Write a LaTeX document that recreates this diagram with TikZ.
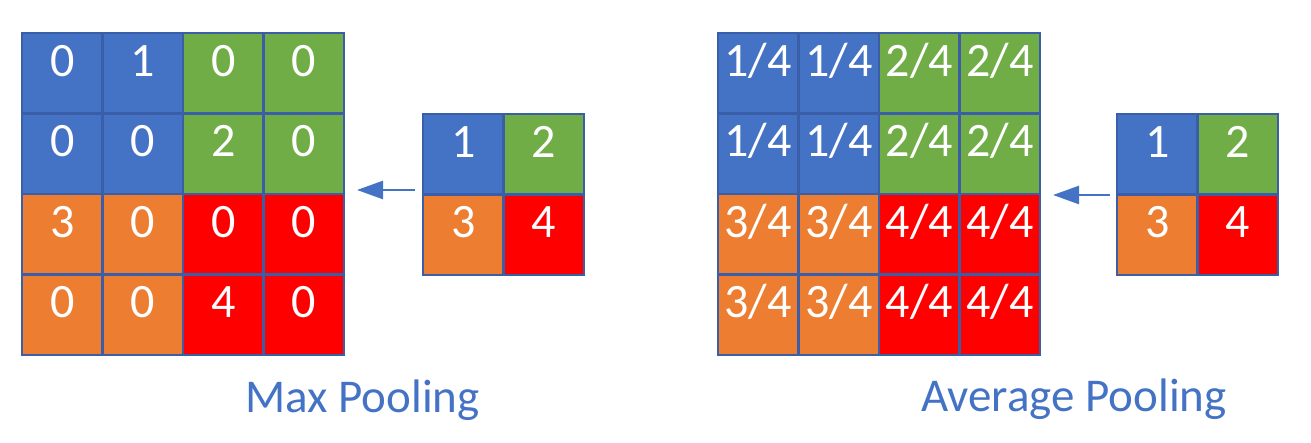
\documentclass[tikz,border=0pt]{standalone}
\usepackage{fontspec}
\setmainfont{Carlito}
\usetikzlibrary{arrows.meta}
\definecolor{qa}{HTML}{4472C4}
\definecolor{qb}{HTML}{70AD47}
\definecolor{qc}{HTML}{ED7D31}
\definecolor{qd}{HTML}{FF0000}
\definecolor{edge}{HTML}{3A5EA8}
\definecolor{lbl}{HTML}{4472C4}
\tikzset{
  cell/.style={draw=edge, line width=2.8pt, minimum size=80.5pt, inner sep=0pt,
    text=white, font=\fontsize{48}{57}\selectfont, text height=0.63em, text depth=0pt},
  arr/.style={draw=lbl, line width=2.5pt, -{Triangle[length=26pt,width=18pt]}},
  caption/.style={text=lbl, font=\fontsize{47}{56}\selectfont, anchor=base, inner sep=0pt}
}
\begin{document}
\begin{tikzpicture}[x=1pt,y=1pt]
\useasboundingbox (0,0) rectangle (1311,443);
% big grids
\foreach \v [count=\i from 0] in {0,1,0,0,0,0,2,0,3,0,0,0,0,0,4,0} {
  \pgfmathtruncatemacro\r{div(\i,4)}
  \pgfmathtruncatemacro\c{mod(\i,4)}
  \pgfmathtruncatemacro\q{2*(\r>1)+(\c>1)}
  \ifcase\q \def\col{qa}\or \def\col{qb}\or \def\col{qc}\else \def\col{qd}\fi
  \node[cell, fill=\col] (L-\r-\c) at (22+40.25+80.5*\c, 443-33-40.25-80.5*\r) {\v};
}
\foreach \v [count=\i from 0] in {1,1,2,2,1,1,2,2,3,3,4,4,3,3,4,4} {
  \pgfmathtruncatemacro\r{div(\i,4)}
  \pgfmathtruncatemacro\c{mod(\i,4)}
  \pgfmathtruncatemacro\q{2*(\r>1)+(\c>1)}
  \ifcase\q \def\col{qa}\or \def\col{qb}\or \def\col{qc}\else \def\col{qd}\fi
  \node[cell, fill=\col] (R-\r-\c) at (718+40.25+80.5*\c, 443-33-40.25-80.5*\r) {\v/4};
}
% small grids
\foreach \v [count=\i from 0] in {1,2,3,4} {
  \pgfmathtruncatemacro\r{div(\i,2)}
  \pgfmathtruncatemacro\c{mod(\i,2)}
  \ifcase\i \def\col{qa}\or \def\col{qb}\or \def\col{qc}\else \def\col{qd}\fi
  \node[cell, fill=\col] (LS-\r-\c) at (423+40.25+80.5*\c, 443-114-40.25-80.5*\r) {\v};
  \node[cell, fill=\col] (RS-\r-\c) at (1117+40.25+80.5*\c, 443-114-40.25-80.5*\r) {\v};
}
% arrows
\coordinate (aL1) at (415,443-190);
\coordinate (aL2) at (357,443-190);
\coordinate (aR1) at (1110,443-195);
\coordinate (aR2) at (1053,443-195);
\draw[arr] (aL1) -- (aL2);
\draw[arr] (aR1) -- (aR2);
% captions
\node[caption] (capL) at (362.5,443-413) {Max Pooling};
\node[caption] (capR) at (1074,443-412) {Average Pooling};
\end{tikzpicture}
\end{document}
